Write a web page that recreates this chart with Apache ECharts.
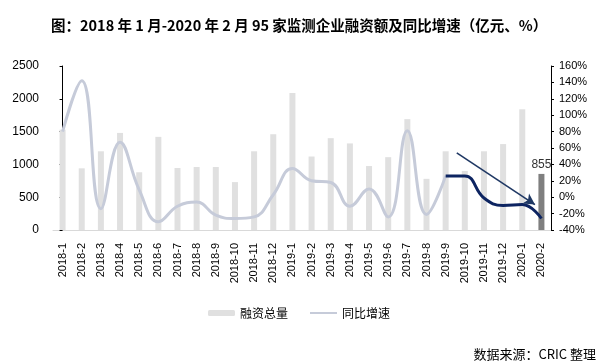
<!DOCTYPE html>
<html>
<head>
<meta charset="utf-8">
<script src="https://cdn.jsdelivr.net/npm/echarts@6/dist/echarts.min.js"></script>
<style>
html,body{margin:0;padding:0;background:#fff;}
#chart{width:607px;height:363px;}
</style>
</head>
<body>
<div id="chart"></div>
<script>
const categories = ['2018-1','2018-2','2018-3','2018-4','2018-5','2018-6','2018-7','2018-8','2018-9','2018-10','2018-11','2018-12',
  '2019-1','2019-2','2019-3','2019-4','2019-5','2019-6','2019-7','2019-8','2019-9','2019-10','2019-11','2019-12','2020-1','2020-2'];
const financing = [1530, 940, 1200, 1480, 880, 1420, 945, 960, 960, 730, 1200, 1460,
  2090, 1120, 1400, 1320, 975, 1110, 1690, 780, 1200, 900, 1200, 1310, 1840, 855];
const growthEarly = [80, 142, -14, 67, 9, -30, -11, -6, -22, -26, -24, 3,
  35, 20, 18, -11, 10, -24, 81, -21, 26, null, null, null, null, null];
const growthRecent = [null, null, null, null, null, null, null, null, null, null, null, null,
  null, null, null, null, null, null, null, null, 26, 26, -1, -10, -9, -26];
const leftTicks = {min: 0, max: 2500, interval: 500};
const rightTicks = {min: -40, max: 160, interval: 20};
const arrowStart = [20.58, 54];
const arrowEnd = [24.66, -9];
const lastLabel = 855;

const font = "'Liberation Sans', 'Noto Sans CJK SC', sans-serif";
const cjk = "'Noto Sans CJK SC', 'Liberation Sans', sans-serif";
const lastIdx = categories.length - 1;

const chart = echarts.init(document.getElementById('chart'), null, {renderer: 'canvas'});
chart.setOption({
  animation: false,
  backgroundColor: '#fff',
  textStyle: {fontFamily: font},
  title: [{
    text: '图：2018 年 1 月-2020 年 2 月 95 家监测企业融资额及同比增速（亿元、%）',
    left: 46, top: 13,
    textStyle: {fontFamily: cjk, fontSize: 14.5, fontWeight: 'bold', color: '#000'}
  }, {
    text: '数据来源：CRIC 整理',
    right: 6, top: 343,
    textStyle: {fontFamily: cjk, fontSize: 13, fontWeight: 'normal', color: '#000'}
  }],
  legend: {
    data: ['融资总量', {name: '同比增速', icon: 'path://M0,0 L27,0 L27,2 L0,2 Z'}],
    left: 203, top: 302,
    itemWidth: 27, itemHeight: 6, itemGap: 22,
    textStyle: {fontFamily: cjk, fontSize: 12, color: '#000'}
  },
  grid: {left: 53, right: 56, top: 66, bottom: 133, containLabel: false},
  xAxis: [{
    type: 'category',
    data: categories,
    axisLine: {lineStyle: {color: '#d9d9d9', width: 1}},
    axisTick: {show: false},
    axisLabel: {rotate: 90, fontSize: 11, color: '#000', margin: 13, interval: 0, fontFamily: font}
  }, {
    type: 'value', min: -0.5, max: categories.length - 0.5, show: false
  }],
  yAxis: [{
    type: 'value', min: leftTicks.min, max: leftTicks.max, interval: leftTicks.interval,
    axisLine: {show: true, lineStyle: {color: '#000'}},
    axisTick: {show: true, length: 3, lineStyle: {color: '#000'}},
    axisLabel: {fontSize: 12, color: '#000', margin: 14, formatter: v => String(v)},
    splitLine: {show: false}
  }, {
    type: 'value', min: rightTicks.min, max: rightTicks.max, interval: rightTicks.interval,
    position: 'right',
    axisLine: {show: true, lineStyle: {color: '#000'}},
    axisTick: {show: true, length: 3, lineStyle: {color: '#000'}},
    axisLabel: {fontSize: 11, color: '#000', margin: 8, formatter: '{value}%'},
    splitLine: {show: false}
  }],
  series: [{
    name: '融资总量',
    type: 'bar',
    barWidth: 6,
    itemStyle: {color: '#e0e0e0'},
    data: financing.map((v, i) => i === lastIdx ? {
      value: v,
      itemStyle: {color: '#7f7f7f'},
      label: {show: true, position: 'top', distance: 3, fontSize: 12, color: '#333', formatter: String(lastLabel)}
    } : v),
    z: 1
  }, {
    name: '同比增速',
    type: 'line',
    yAxisIndex: 1,
    smooth: 0.45,
    symbol: 'none',
    connectNulls: false,
    lineStyle: {color: '#c6cbd9', width: 3},
    itemStyle: {color: '#c6cbd9'},
    data: growthEarly,
    z: 3
  }, {
    name: '同比增速（近期）',
    type: 'line',
    yAxisIndex: 1,
    smooth: 0.45,
    symbol: 'none',
    lineStyle: {color: '#0d2461', width: 3},
    itemStyle: {color: '#0d2461'},
    data: growthRecent,
    z: 4
  }, {
    name: 'trend',
    type: 'line',
    xAxisIndex: 1,
    yAxisIndex: 1,
    data: [],
    silent: true,
    markLine: {
      silent: true,
      symbol: ['none', 'arrow'],
      symbolSize: [9, 11],
      label: {show: false},
      lineStyle: {color: '#1f3864', width: 1.6, type: 'solid'},
      data: [[{coord: arrowStart}, {coord: arrowEnd}]]
    },
    z: 5
  }]
});
</script>
</body>
</html>
